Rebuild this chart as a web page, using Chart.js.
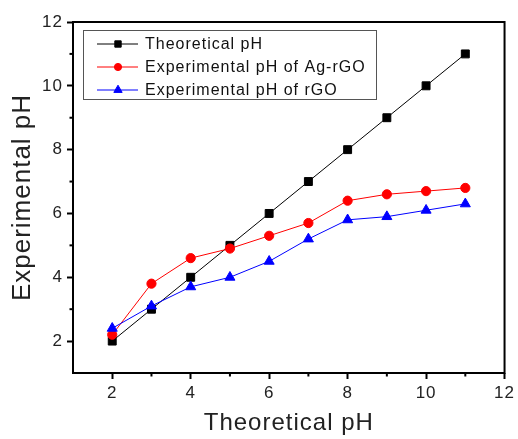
<!DOCTYPE html>
<html>
<head>
<meta charset="utf-8">
<script src="https://cdn.jsdelivr.net/npm/chart.js@4/dist/chart.umd.min.js"></script>
<style>
  html, body { margin: 0; padding: 0; background: #fff; }
  #wrap { width: 518px; height: 439px; }
</style>
</head>
<body>
<div id="wrap"><canvas id="phChart" width="518" height="439"></canvas></div>
<script>
// ---------- data ----------
const theoreticalPH = [2, 3, 4, 5, 6, 7, 8, 9, 10, 11];
const theoreticalLine = [2, 3, 4, 5, 6, 7, 8, 9, 10, 11];
const agRgoPH = [2.2, 3.8, 4.6, 4.9, 5.3, 5.7, 6.4, 6.6, 6.7, 6.8];
const rgoPH = [2.4, 3.1, 3.7, 4.0, 4.5, 5.2, 5.8, 5.9, 6.1, 6.3];
const seriesLabels = ["Theoretical pH", "Experimental pH of Ag-rGO", "Experimental pH of rGO"];

const FONT = `"Liberation Sans", Arial, Helvetica, sans-serif`;
const textColor = "#222";

const toPoints = (ys) => theoreticalPH.map((x, i) => ({ x, y: ys[i] }));

// ---------- plot frame, minor ticks, text spacing ----------
const framePlugin = {
  id: "frame",
  beforeDraw(chart) {
    chart.ctx.letterSpacing = "1px";
  },
  beforeDatasetsDraw(chart) {
    const { ctx, chartArea: a, scales } = chart;
    ctx.save();
    ctx.strokeStyle = "#000";
    ctx.lineWidth = 2;
    ctx.strokeRect(a.left, a.top, a.right - a.left, a.bottom - a.top);
    // minor ticks
    for (let v = 3; v < 12; v += 2) {
      const px = scales.x.getPixelForValue(v);
      ctx.beginPath();
      ctx.moveTo(px, a.bottom);
      ctx.lineTo(px, a.bottom + 3.5);
      ctx.stroke();
      const py = scales.y.getPixelForValue(v);
      ctx.beginPath();
      ctx.moveTo(a.left, py);
      ctx.lineTo(a.left - 3.5, py);
      ctx.stroke();
    }
    ctx.restore();
  },
  afterDraw(chart) {
    const ctx = chart.ctx;
    // legend box
    ctx.save();
    ctx.strokeStyle = "#555";
    ctx.lineWidth = 1;
    ctx.strokeRect(83.5, 30.5, 293, 69);
    const rows = [44, 67, 90];
    const sizes = [4.5, 3.6, 4.8];
    chart.data.datasets.forEach((ds, i) => {
      const y = rows[i];
      ctx.strokeStyle = ds.borderColor;
      ctx.lineWidth = 1;
      ctx.beginPath();
      ctx.moveTo(97, y);
      ctx.lineTo(138, y);
      ctx.stroke();
      ctx.fillStyle = ds.backgroundColor;
      ctx.strokeStyle = ds.backgroundColor;
      Chart.helpers.drawPoint(ctx, { pointStyle: ds.pointStyle, radius: sizes[i], rotation: 0, borderWidth: 1 }, 118, y);
      ctx.fillStyle = "#111";
      ctx.font = `16px ${FONT}`;
      ctx.textBaseline = "middle";
      ctx.textAlign = "left";
      ctx.fillText(ds.label, 145, y + 1);
    });
    ctx.restore();
    ctx.letterSpacing = "0px";
  },
};

const tickCol = (c) => (c.tick && c.tick.value % 2 === 0 ? "#000" : "rgba(0,0,0,0)");

const ctx = document.getElementById("phChart").getContext("2d");
const phChart = new Chart(ctx, {
  type: "line",
  data: {
    datasets: [
      {
        label: seriesLabels[0],
        data: toPoints(theoreticalLine),
        borderColor: "#000",
        backgroundColor: "#000",
        pointStyle: "rect",
        pointRadius: 5.6,
        order: 3,
      },
      {
        label: seriesLabels[1],
        data: toPoints(agRgoPH),
        borderColor: "#ff0000",
        backgroundColor: "#ff0000",
        pointStyle: "circle",
        pointRadius: 4.6,
        order: 2,
      },
      {
        label: seriesLabels[2],
        data: toPoints(rgoPH),
        borderColor: "#0000ff",
        backgroundColor: "#0000ff",
        pointStyle: "triangle",
        pointRadius: 5.8,
        order: 1,
      },
    ],
  },
  options: {
    responsive: false,
    animation: false,
    devicePixelRatio: 1,
    layout: { padding: { left: 0, top: 22, right: 12, bottom: 0 } },
    elements: {
      line: { borderWidth: 1, tension: 0 },
      point: { borderWidth: 1, hoverRadius: 5 },
    },
    plugins: {
      legend: { display: false },
      tooltip: { enabled: false },
    },
    scales: {
      x: {
        type: "linear",
        min: 1,
        max: 12,
        afterFit: (s) => { s.height = 66; },
        border: { display: false },
        grid: { drawOnChartArea: false, tickLength: 6, tickWidth: 2, tickColor: tickCol },
        ticks: {
          stepSize: 1,
          autoSkip: false,
          maxRotation: 0,
          padding: 4,
          color: textColor,
          font: { family: FONT, size: 17 },
          callback: (v) => (v % 2 === 0 ? v : ""),
        },
        title: {
          display: true,
          text: "Theoretical pH",
          color: textColor,
          font: { family: FONT, size: 24 },
          padding: { top: 0, bottom: 1 },
        },
      },
      y: {
        min: 1,
        max: 12,
        afterFit: (s) => { s.width = 73; },
        border: { display: false },
        grid: { drawOnChartArea: false, tickLength: 6, tickWidth: 2, tickColor: tickCol },
        ticks: {
          stepSize: 1,
          autoSkip: false,
          padding: 4,
          color: textColor,
          font: { family: FONT, size: 17 },
          callback: (v) => (v % 2 === 0 ? v : ""),
        },
        title: {
          display: true,
          text: "Experimental pH",
          color: textColor,
          font: { family: FONT, size: 26 },
          padding: { top: 7, bottom: 0 },
        },
      },
    },
  },
  plugins: [framePlugin],
});
</script>
</body>
</html>
